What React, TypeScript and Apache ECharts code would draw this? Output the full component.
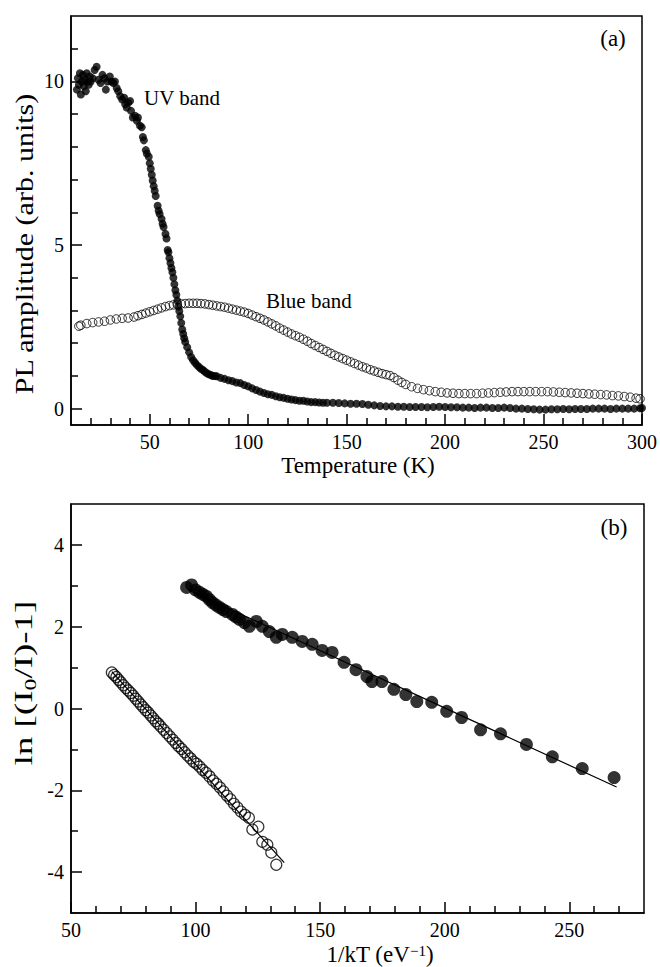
import React, { useEffect, useRef } from "react";
import * as echarts from "echarts";

// ---------- Panel (a): PL amplitude vs temperature ----------
const uvBand: [number, number][] = [
  [13, 9.75], [13.5, 10.1], [14, 9.9], [14.5, 10.25], [15, 9.6], [15.5, 10.0], [16, 10.2], [16.5, 9.85],
  [17, 10.05], [17.5, 9.7], [18, 10.25], [18.5, 10.0], [19, 9.9], [19.5, 10.15], [20, 10.0], [21, 10.1],
  [22, 10.35], [23, 10.45], [24, 10.05], [25, 9.95], [26, 10.2], [27, 10.1], [27.7, 9.75], [28.5, 10.0],
  [29.7, 10.15], [30.5, 10.0], [31.5, 9.95], [32.3, 10.0], [33.2, 9.8], [34, 9.7], [35, 9.55], [36, 9.45],
  [37, 9.5], [37.5, 9.3], [38.3, 9.2], [39, 9.35], [40, 9.4], [40.5, 9.1], [41.4, 8.9], [42.5, 8.95],
  [43.5, 8.8], [44, 8.9], [45, 8.65], [45.9, 8.6], [46.5, 8.3], [47, 8.2], [48, 7.9], [48.5, 7.8],
  [49.5, 7.7], [50, 7.5], [50.5, 7.33], [51, 7.15], [51.5, 6.97], [52, 6.8], [52.5, 6.66], [53, 6.5],
  [54, 6.2], [54.5, 6.05], [55, 5.95], [56, 5.8], [56.5, 5.65], [57, 5.55], [58, 5.34], [58.5, 5.2],
  [59.1, 4.85], [59.5, 4.78], [60, 4.6], [60.5, 4.45], [61, 4.3], [61.5, 4.17], [62, 4.0], [62.5, 3.8],
  [63, 3.62], [63.5, 3.48], [64, 3.3], [64.5, 3.12], [65, 2.98], [65.5, 2.82], [66, 2.62], [66.5, 2.42],
  [67, 2.28], [67.5, 2.15], [68, 2.04], [69, 1.88], [70, 1.72], [71, 1.58], [72, 1.48], [73, 1.4],
  [74, 1.33], [75, 1.27], [76, 1.22], [77, 1.18], [78, 1.13], [79, 1.08], [80, 1.05], [81, 1.03],
  [82, 1.0], [83, 1.0], [84, 0.99], [86, 0.94], [88, 0.91], [90, 0.87], [92, 0.84], [94, 0.8],
  [96, 0.78], [98, 0.72], [100, 0.68], [102, 0.62], [104, 0.57], [106, 0.52], [108, 0.48], [110, 0.44],
  [112, 0.42], [114, 0.38], [116, 0.35], [118, 0.33], [120, 0.3], [122, 0.28], [124, 0.26], [126, 0.24],
  [128, 0.24], [130, 0.22], [132, 0.2], [134, 0.2], [136, 0.19], [138, 0.18], [140, 0.18], [143, 0.18],
  [146, 0.17], [149, 0.16], [152, 0.15], [155, 0.15], [158, 0.14], [161, 0.12], [164, 0.1], [167, 0.08],
  [170, 0.07], [173, 0.07], [176, 0.06], [179, 0.06], [182, 0.05], [185, 0.05], [188, 0.05], [191, 0.04],
  [194, 0.05], [197, 0.06], [200, 0.05], [203, 0.04], [206, 0.04], [209, 0.03], [212, 0.03], [215, 0.02],
  [218, 0.03], [221, 0.03], [224, 0.02], [227, 0.02], [230, 0.03], [233, 0.02], [236, 0.0], [239, 0.0],
  [242, -0.01], [245, -0.02], [248, -0.03], [251, -0.03], [254, -0.02], [257, -0.02], [260, -0.01], [263, -0.02],
  [266, -0.01], [269, -0.01], [272, -0.01], [275, 0.0], [278, 0.0], [281, 0.0], [284, -0.01], [287, 0.0],
  [290, 0.0], [293, 0.0], [296, 0.0], [299, 0.01], [300, 0.02],
];

const blueBand: [number, number][] = [
  [14, 2.52], [15, 2.55], [18, 2.6], [21, 2.63], [24, 2.65], [27, 2.67], [30, 2.71], [33, 2.74],
  [36, 2.76], [39, 2.77], [42, 2.8], [44, 2.84], [46, 2.88], [48, 2.92], [50, 2.96], [52, 3.0],
  [54, 3.04], [56, 3.08], [58, 3.12], [60, 3.15], [62, 3.17], [64, 3.19], [66, 3.2], [68, 3.21],
  [70, 3.22], [72, 3.22], [74, 3.22], [76, 3.21], [78, 3.2], [80, 3.18], [82, 3.16], [84, 3.14],
  [86, 3.12], [88, 3.1], [90, 3.07], [92, 3.04], [94, 3.01], [96, 2.98], [98, 2.95], [100, 2.91],
  [102, 2.86], [104, 2.81], [106, 2.76], [108, 2.71], [110, 2.65], [112, 2.59], [114, 2.53], [116, 2.46],
  [118, 2.4], [120, 2.34], [122, 2.28], [124, 2.23], [126, 2.18], [128, 2.12], [130, 2.06], [132, 1.99],
  [134, 1.93], [136, 1.87], [138, 1.81], [140, 1.75], [142, 1.69], [144, 1.63], [146, 1.58], [148, 1.53],
  [150, 1.48], [152, 1.43], [154, 1.38], [156, 1.33], [158, 1.28], [160, 1.24], [162, 1.19], [164, 1.15],
  [166, 1.11], [168, 1.07], [170, 1.04], [172, 1.01], [174, 0.95], [176, 0.87], [178, 0.8], [180, 0.74],
  [183, 0.67], [186, 0.62], [189, 0.58], [192, 0.55], [195, 0.52], [198, 0.5], [201, 0.48], [204, 0.47],
  [207, 0.46], [210, 0.46], [213, 0.46], [216, 0.46], [219, 0.47], [222, 0.48], [225, 0.49], [228, 0.5],
  [231, 0.51], [234, 0.52], [237, 0.52], [240, 0.52], [243, 0.52], [246, 0.52], [249, 0.52], [252, 0.52],
  [255, 0.51], [258, 0.5], [261, 0.49], [264, 0.48], [267, 0.47], [270, 0.46], [273, 0.45], [276, 0.44],
  [279, 0.43], [282, 0.42], [285, 0.4], [288, 0.39], [291, 0.37], [294, 0.35], [297, 0.32], [299, 0.3],
];

// ---------- Panel (b): ln[(I0/I)-1] vs 1/kT ----------
const blueArrhenius: [number, number][] = [
  [66.4, 0.88], [67.3, 0.82], [68.2, 0.77], [69.1, 0.7], [70, 0.64], [71, 0.57], [72, 0.5], [73, 0.44],
  [74, 0.38], [75, 0.31], [76, 0.24], [77, 0.17], [78, 0.1], [79, 0.03], [80, -0.04], [81, -0.1],
  [82, -0.17], [83, -0.24], [84, -0.31], [85, -0.37], [86, -0.44], [87.2, -0.52], [88.4, -0.6], [89.6, -0.68],
  [90.8, -0.76], [92, -0.84], [93.2, -0.92], [94.4, -0.99], [95.6, -1.07], [96.8, -1.15], [98, -1.22], [99.2, -1.3],
  [100.4, -1.35], [101.6, -1.42], [102.8, -1.5], [104.2, -1.57], [105.6, -1.66], [107, -1.76], [108.4, -1.84], [109.8, -1.93],
  [111.2, -2.03], [112.6, -2.13], [114, -2.22], [115.4, -2.33], [116.8, -2.42], [118.2, -2.52], [119.8, -2.6], [121.4, -2.67],
  [122.8, -2.96], [125.2, -2.89], [126.8, -3.26], [128.8, -3.33], [130.4, -3.52], [132.4, -3.82],
];

const uvArrhenius: [number, number][] = [
  [96.4, 2.96], [98.4, 3.02], [100, 2.9], [101.6, 2.84], [103, 2.79], [104.4, 2.74], [105.6, 2.66], [106.8, 2.59],
  [108.2, 2.53], [109.6, 2.47], [111, 2.42], [112.4, 2.37], [114.8, 2.3], [116.2, 2.24], [117.6, 2.18], [119.6, 2.1],
  [121.6, 2.01], [124.4, 2.13], [126.8, 2.01], [129.6, 1.88], [132.4, 1.74], [134.8, 1.81], [138.8, 1.74], [142.8, 1.64],
  [146.8, 1.57], [150.8, 1.42], [154.8, 1.37], [159.6, 1.13], [164.4, 0.95], [168.8, 0.78], [170.8, 0.66], [174.8, 0.66],
  [179.6, 0.47], [184.4, 0.34], [188.8, 0.17], [194.8, 0.15], [200.8, -0.07], [206.8, -0.22], [214.4, -0.52], [222.4, -0.62],
  [232.8, -0.88], [243.2, -1.18], [255.2, -1.47], [268, -1.69],
];

const blueFit: [number, number][] = [[66.4, 0.9], [135.6, -3.77]];
const uvFit: [number, number][] = [[97, 2.9], [269, -1.92]];

// ---------- Tick values ----------
const tempMajor = [50, 100, 150, 200, 250, 300];
const tempMinor = [20, 30, 40, 60, 70, 80, 90, 110, 120, 130, 140, 160, 170, 180, 190, 210, 220, 230, 240, 260, 270, 280, 290];
const ampMajor = [0, 5, 10];
const ampMinor = [1, 2, 3, 4, 6, 7, 8, 9, 11];
const invMajor = [50, 100, 150, 200, 250];
const invMinor = [60, 70, 80, 90, 110, 120, 130, 140, 160, 170, 180, 190, 210, 220, 230, 240, 260, 270];
const lnMajor = [-4, -2, 0, 2, 4];
const lnMinor = [-3, -1, 1, 3];

const SERIF = "'Liberation Serif', 'Times New Roman', serif";
const BLACK = "#000";

function majorAxis(gridIndex: number, min: number, max: number, ticks: number[], position: string) {
  return {
    type: "value",
    gridIndex,
    min,
    max,
    position,
    axisLine: { show: true, onZero: false, lineStyle: { color: BLACK, width: 1.5 } },
    axisTick: { show: true, inside: true, length: 11, customValues: ticks, lineStyle: { color: BLACK, width: 1.5 } },
    axisLabel: { show: true, customValues: ticks, color: BLACK, fontFamily: SERIF, fontSize: 20, margin: 7 },
    splitLine: { show: false },
  };
}

function minorAxis(gridIndex: number, min: number, max: number, ticks: number[], position: string) {
  return {
    type: "value",
    gridIndex,
    min,
    max,
    position,
    axisLine: { show: false, onZero: false },
    axisTick: { show: true, inside: true, length: 7, customValues: ticks, lineStyle: { color: BLACK, width: 1.5 } },
    axisLabel: { show: false },
    splitLine: { show: false },
  };
}

function label(text: string, x: number, y: number, size: number, align = "center") {
  return {
    type: "text",
    x,
    y,
    style: {
      text,
      fill: BLACK,
      fontFamily: SERIF,
      fontSize: size,
      align,
      textAlign: align,
      verticalAlign: "middle",
      textVerticalAlign: "middle",
    },
  };
}

export default function App() {
  const ref = useRef<HTMLDivElement>(null);

  useEffect(() => {
    if (!ref.current) return;
    const chart = echarts.init(ref.current, undefined, { renderer: "svg" });
    const option: any = {
      animation: false,
      backgroundColor: "#fff",
      grid: [
        { left: 71, top: 16, width: 573, height: 409, show: true, borderColor: BLACK, borderWidth: 1.5, backgroundColor: "transparent" },
        { left: 71, top: 504, width: 573, height: 409, show: true, borderColor: BLACK, borderWidth: 1.5, backgroundColor: "transparent" },
      ],
      xAxis: [
        majorAxis(0, 10, 300, tempMajor, "bottom"),
        minorAxis(0, 10, 300, tempMinor, "bottom"),
        majorAxis(1, 50, 280, invMajor, "bottom"),
        minorAxis(1, 50, 280, invMinor, "bottom"),
      ],
      yAxis: [
        majorAxis(0, -0.5, 12, ampMajor, "left"),
        minorAxis(0, -0.5, 12, ampMinor, "left"),
        majorAxis(1, -5, 5, lnMajor, "left"),
        minorAxis(1, -5, 5, lnMinor, "left"),
      ],
      series: [
        {
          type: "scatter",
          name: "Blue band",
          xAxisIndex: 0,
          yAxisIndex: 0,
          data: blueBand,
          symbol: "circle",
          symbolSize: 8.5,
          itemStyle: { color: "rgba(255,255,255,0)", borderColor: BLACK, borderWidth: 1 },
        },
        {
          type: "scatter",
          name: "UV band",
          xAxisIndex: 0,
          yAxisIndex: 0,
          data: uvBand,
          symbol: "circle",
          symbolSize: 8,
          itemStyle: { color: BLACK },
        },
        {
          type: "line",
          xAxisIndex: 2,
          yAxisIndex: 2,
          data: blueFit,
          symbol: "none",
          lineStyle: { color: BLACK, width: 1.2 },
        },
        {
          type: "line",
          xAxisIndex: 2,
          yAxisIndex: 2,
          data: uvFit,
          symbol: "none",
          lineStyle: { color: BLACK, width: 1.2 },
        },
        {
          type: "scatter",
          xAxisIndex: 2,
          yAxisIndex: 2,
          data: blueArrhenius,
          symbol: "circle",
          symbolSize: 11,
          itemStyle: { color: "rgba(255,255,255,0)", borderColor: BLACK, borderWidth: 1.2 },
        },
        {
          type: "scatter",
          xAxisIndex: 2,
          yAxisIndex: 2,
          data: uvArrhenius,
          symbol: "circle",
          symbolSize: 13,
          itemStyle: { color: BLACK },
        },
      ],
      graphic: [
        label("UV band", 144, 98, 21, "left"),
        label("Blue band", 266, 301, 21, "left"),
        label("(a)", 613, 38, 23),
        label("(b)", 614, 527, 23),
        label("Temperature (K)", 358, 465, 23),
        {
          type: "text",
          x: 380,
          y: 954,
          style: {
            text: "1/kT (eV{sup|\u22121})",
            fill: BLACK,
            fontFamily: SERIF,
            fontSize: 23,
            lineHeight: 22,
            align: "center",
            textAlign: "center",
            verticalAlign: "middle",
            textVerticalAlign: "middle",
            rich: { sup: { fontFamily: SERIF, fontSize: 15, lineHeight: 12, verticalAlign: "top", fill: BLACK } },
          },
        },
        {
          type: "text",
          x: 24,
          y: 244,
          rotation: Math.PI / 2,
          scaleX: 1.2,
          style: {
            text: "PL amplitude (arb. units)",
            fill: BLACK,
            fontFamily: SERIF,
            fontSize: 25,
            align: "center",
            textAlign: "center",
            verticalAlign: "middle",
            textVerticalAlign: "middle",
          },
        },
        {
          type: "text",
          x: 24,
          y: 683,
          rotation: Math.PI / 2,
          scaleX: 1.48,
          style: {
            text: "ln [(I{sub|0}/I)-1]",
            fill: BLACK,
            fontFamily: SERIF,
            fontSize: 25,
            lineHeight: 28,
            align: "center",
            textAlign: "center",
            verticalAlign: "middle",
            textVerticalAlign: "middle",
            rich: { sub: { fontFamily: SERIF, fontSize: 16, lineHeight: 16, verticalAlign: "bottom", fill: BLACK } },
          },
        },
      ],
    };
    chart.setOption(option);
    return () => chart.dispose();
  }, []);

  return (
    <div
      ref={ref}
      style={{ position: "absolute", left: 0, top: 0, width: 660, height: 967, background: "#fff" }}
    />
  );
}
